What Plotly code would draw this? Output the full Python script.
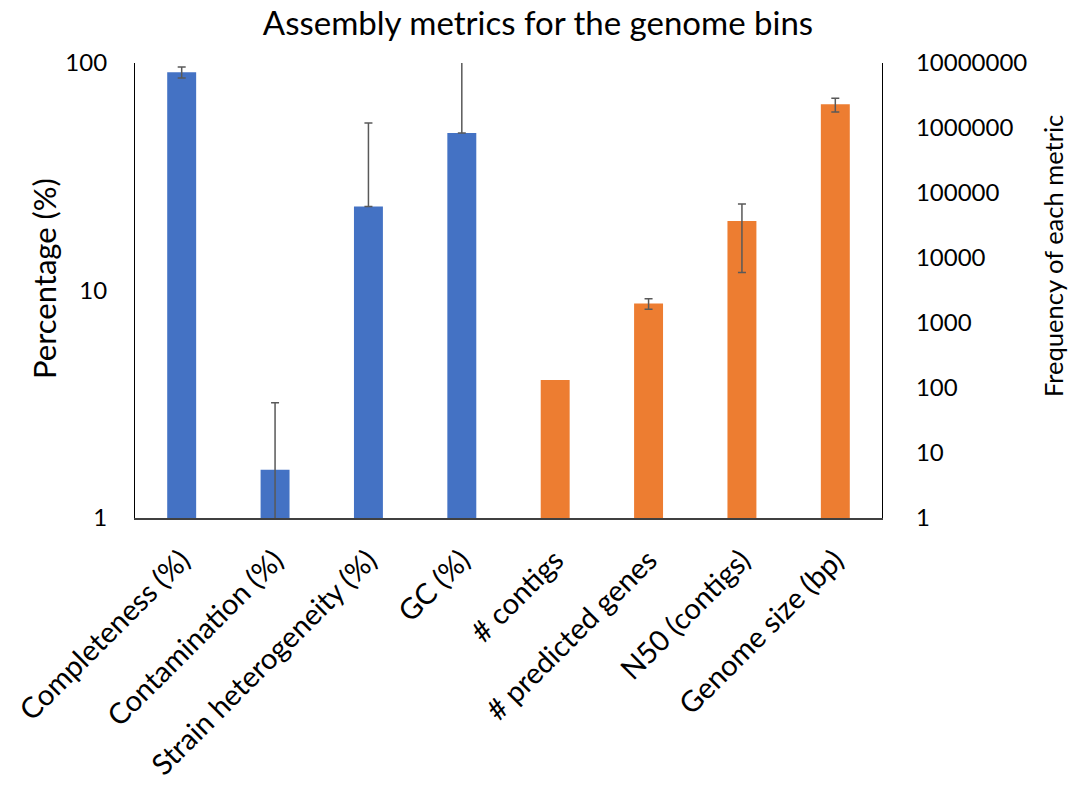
import plotly.graph_objects as go

# Categories on the shared x axis
categories = [
    "Completeness (%)", "Contamination (%)", "Strain heterogeneity (%)", "GC (%)",
    "# contigs", "# predicted genes", "N50 (contigs)", "Genome size (bp)",
]

# Percentage metrics (left axis)
pct_names = categories[:4]
pct_values = [91.0, 1.63, 23.4, 49.2]
pct_err_plus = [5.0, 1.58, 31.1, 60.0]
pct_err_minus = [5.0, 1.58, 0.0, 0.0]

# Count / size metrics (right axis)
freq_names = categories[4:]
freq_values = [133, 2000, 37000, 2320000]
# Only these three metrics carry an error estimate
freq_err_names = ["# predicted genes", "N50 (contigs)", "Genome size (bp)"]
freq_err_values = [2000, 37000, 2320000]
freq_err = [370, 31000, 550000]

left_ticks = [1, 10, 100]
right_ticks = [1, 10, 100, 1000, 10000, 100000, 1000000, 10000000]

BLUE = "#4472C4"
ORANGE = "#ED7D31"
ERR = "#595959"
FONT = "Lato"

fig = go.Figure()

fig.add_trace(go.Bar(
    x=pct_names, y=pct_values, yaxis="y", width=0.31,
    marker=dict(color=BLUE, line=dict(width=0)),
    error_y=dict(type="data", symmetric=False, array=pct_err_plus,
                 arrayminus=pct_err_minus, color=ERR, thickness=1.5, width=4),
    showlegend=False,
))

fig.add_trace(go.Bar(
    x=freq_names, y=freq_values, yaxis="y2", width=0.31,
    marker=dict(color=ORANGE, line=dict(width=0)),
    showlegend=False,
))

fig.add_trace(go.Scatter(
    x=freq_err_names, y=freq_err_values, yaxis="y2", mode="markers",
    marker=dict(size=1, opacity=0),
    error_y=dict(type="data", array=freq_err, color=ERR, thickness=1.5, width=4),
    showlegend=False, hoverinfo="skip",
))

plot_l, plot_r, plot_t, plot_b = 135, 882, 63, 518


def px_to_paper(px, py):
    return (px - plot_l) / (plot_r - plot_l), (plot_b - py) / (plot_b - plot_t)


lx, ly = px_to_paper(44, 279)
rx, ry = px_to_paper(1053, 256)

fig.update_layout(
    width=1073, height=787,
    margin=dict(l=plot_l, r=1073 - plot_r, t=plot_t, b=787 - plot_b, autoexpand=False),
    paper_bgcolor="white", plot_bgcolor="white",
    font=dict(family=FONT, color="black", size=24),
    barmode="overlay",
    title=dict(text="Assembly metrics for the genome bins", x=538 / 1073, xanchor="center",
               y=1 - 23 / 787, yanchor="middle", yref="container", automargin=False,
               font=dict(size=33, family=FONT, color="black")),
    xaxis=dict(
        type="category", categoryorder="array", categoryarray=categories,
        tickangle=-45, showgrid=False, showline=True, linecolor="#404040", linewidth=1.5,
        ticks="", tickfont=dict(size=29), ticklabelstandoff=12, automargin=False,
    ),
    yaxis=dict(
        type="log", range=[0, 2], tickvals=left_ticks, ticktext=[str(v) for v in left_ticks],
        showgrid=False, showline=True, linecolor="black", linewidth=1.2, ticks="",
        tickfont=dict(size=24), ticklabelstandoff=22, zeroline=False, automargin=False,
    ),
    yaxis2=dict(
        type="log", range=[0, 7], tickvals=right_ticks, ticktext=[str(v) for v in right_ticks],
        overlaying="y", side="right", showgrid=False, showline=True, linecolor="black",
        linewidth=1.2, ticks="", tickfont=dict(size=24), ticklabelstandoff=28, zeroline=False,
        automargin=False,
    ),
    annotations=[
        dict(text="Percentage (%)", x=lx, y=ly, xref="paper", yref="paper",
             xanchor="center", yanchor="middle",
             showarrow=False, textangle=-90, font=dict(size=31)),
        dict(text="Frequency of each metric", x=rx, y=ry, xref="paper", yref="paper",
             xanchor="center", yanchor="middle",
             showarrow=False, textangle=-90, font=dict(size=25.5)),
    ],
)

fig.write_html("out.html")
